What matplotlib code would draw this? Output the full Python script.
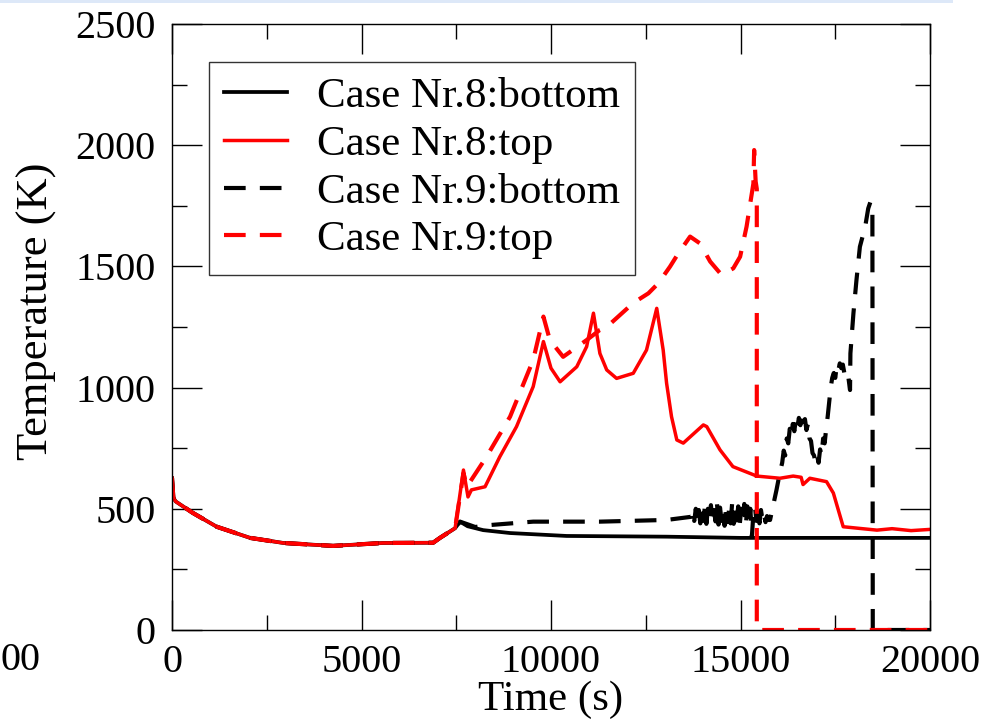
import matplotlib
matplotlib.use("Agg")
import matplotlib.pyplot as plt
from matplotlib.patches import Rectangle
import numpy as np

# ---- data ----
# shared initial cool-down (all four curves coincide)
t_init = [0, 35, 100, 550, 1180, 2060, 2940, 4250, 5570, 6890, 7070, 7470]
T_init = [627, 545, 530, 483, 426, 380, 359, 347, 359, 360, 380, 420]

# Case Nr.8 bottom (black solid)
t8b = [7600, 7800, 8210, 8920, 10410, 13050, 15000, 20000]
T8b = [447, 428, 412, 400, 388, 385, 380, 380]

# Case Nr.8 top (red solid)
t8t = [7690, 7810, 7900, 8260, 8650, 9090, 9530, 9800, 10000, 10240, 10680,
       10940, 11120, 11290, 11470, 11730, 12170, 12520, 12790, 12960, 13050,
       13180, 13320, 13490, 14020, 14110, 14460, 14800, 15430, 16040, 16390,
       16600, 16650, 16830, 17270, 17450, 17710, 18150, 18600, 19000, 19500, 20000]
T8t = [660, 549, 578, 591, 715, 839, 1004, 1190, 1080, 1024, 1086,
       1169, 1307, 1141, 1073, 1038, 1059, 1155, 1327, 1155, 1018,
       880, 784, 771, 846, 839, 743, 674, 635, 626, 635,
       630, 600, 626, 612, 565, 426, 419, 412, 418, 410, 415]

# Case Nr.9 bottom (black dashed)
t9b_a = [7600, 8000, 8390, 9530, 11290, 13050]
T9b_a = [447, 425, 433, 447, 447, 454]
t9b_noise1 = list(range(13700, 15741, 40))
T9b_noise1 = [467, 490, 450, 500, 445, 495, 440, 505, 450, 510, 438, 500, 455,
              515, 440, 495, 448, 520, 435, 505, 450, 500, 430, 515, 445, 500,
              440, 525, 438, 505, 452, 510, 435, 500, 448, 520, 430, 510, 440,
              500, 385, 480, 510, 450, 500, 440, 495, 455, 480, 445, 470, 454]
t9b_b = [15780, 15870, 15950, 16040]
T9b_b = [454, 520, 578, 650]
t9b_noise2 = list(range(16100, 17301, 40))
T9b_noise2 = [690, 740, 720, 790, 770, 830, 800, 850, 820, 870, 835, 875, 845,
              880, 840, 870, 825, 850, 790, 780, 730, 720, 690, 720, 690, 745,
              720, 790, 770, 830, 880]
t9b_c = [17340, 17380, 17420, 17460, 17500, 17540, 17580, 17620, 17660, 17700,
         17740, 17780, 17840, 17890, 17900, 17980, 18060, 18150, 18290, 18370,
         18430, 18480, 18490, 20000]
T9b_c = [940, 1000, 1040, 1060, 1040, 1090, 1070, 1100, 1080, 1095,
         1060, 1075, 1050, 990, 1141, 1307, 1444, 1581, 1664, 1739,
         1767, 1740, 0, 0]

# Case Nr.9 top (red dashed)
t9t = [7690, 7780, 8300, 8920, 9530, 9800, 9970, 10320, 10940, 11290, 11470,
       12170, 12570, 12830, 13140, 13360, 13670, 13930, 14200, 14500, 14810,
       14990, 15160, 15340, 15360, 15400, 15430, 15430, 20000]
T9t = [647, 591, 715, 880, 1114, 1293, 1196, 1127, 1196, 1238, 1250,
       1349, 1389, 1430, 1499, 1554, 1623, 1595, 1520, 1465, 1492,
       1540, 1664, 1842, 1980, 1850, 1820, 0, 0]

labels = ["Case Nr.8:bottom", "Case Nr.8:top", "Case Nr.9:bottom", "Case Nr.9:top"]

x_ticks = [0, 5000, 10000, 15000, 20000]
y_ticks = [0, 500, 1000, 1500, 2000, 2500]

# ---- figure ----
plt.rcParams['font.family'] = ['Liberation Serif', 'DejaVu Serif']
fig = plt.figure(figsize=(10.02, 7.27), dpi=100)
ax = fig.add_axes([172/1002, 1-630/727, 758/1002, 606/727])

t9b = t9b_a + t9b_noise1 + t9b_b + t9b_noise2 + t9b_c
T9b = T9b_a + T9b_noise1 + T9b_b + T9b_noise2 + T9b_c

dash = (0, (5.2, 3.4))
ax.plot(t_init + t8b, T_init + T8b, color='black', lw=2.7, label=labels[0])
ax.plot(t_init + t8t, T_init + T8t, color='#ff0000', lw=2.5, label=labels[1])
ax.plot(t_init + t9b, T_init + T9b, color='black', lw=3.0, linestyle=dash, label=labels[2])
ax.plot(t_init + t9t, T_init + T9t, color='#ff0000', lw=3.0, linestyle=dash, label=labels[3])

ax.set_xlim(0, 20000)
ax.set_ylim(0, 2500)
ax.set_xticks(x_ticks)
ax.set_yticks(y_ticks)
ax.set_xticks(np.arange(2500, 20000, 5000), minor=True)
ax.set_yticks(np.arange(250, 2500, 500), minor=True)
ax.tick_params(which='both', direction='in', top=True, right=True, width=1.0,
               labelsize=29)
ax.tick_params(which='major', length=21.5)
ax.tick_params(which='minor', length=10.8)
ax.tick_params(axis='y', pad=12)
ax.tick_params(axis='x', pad=10)
for s in ax.spines.values():
    s.set_linewidth(1.0)

ax.set_xlabel("Time (s)", fontsize=31, labelpad=0)
ax.set_ylabel("Temperature (K)", fontsize=32)
ax.yaxis.set_label_coords(-0.152, 0.526)

leg = ax.legend(loc='upper left', bbox_to_anchor=((209-172)/758, (630-62)/606),
                borderaxespad=0, fontsize=31, frameon=True, fancybox=False,
                edgecolor='black', handlelength=1.45, handletextpad=0.7,
                labelspacing=0.2, borderpad=0.35)
leg.get_frame().set_linewidth(1.0)

# cropped-neighbour artefacts
fig.patches.append(Rectangle((0, 1-3/727), 953/1002, 3/727, transform=fig.transFigure,
                             facecolor='#dde8f8', edgecolor='none'))
fig.text(0, 1-660/727, "00", ha='left', va='center', fontsize=29)

fig.savefig("out.png", dpi=100)
